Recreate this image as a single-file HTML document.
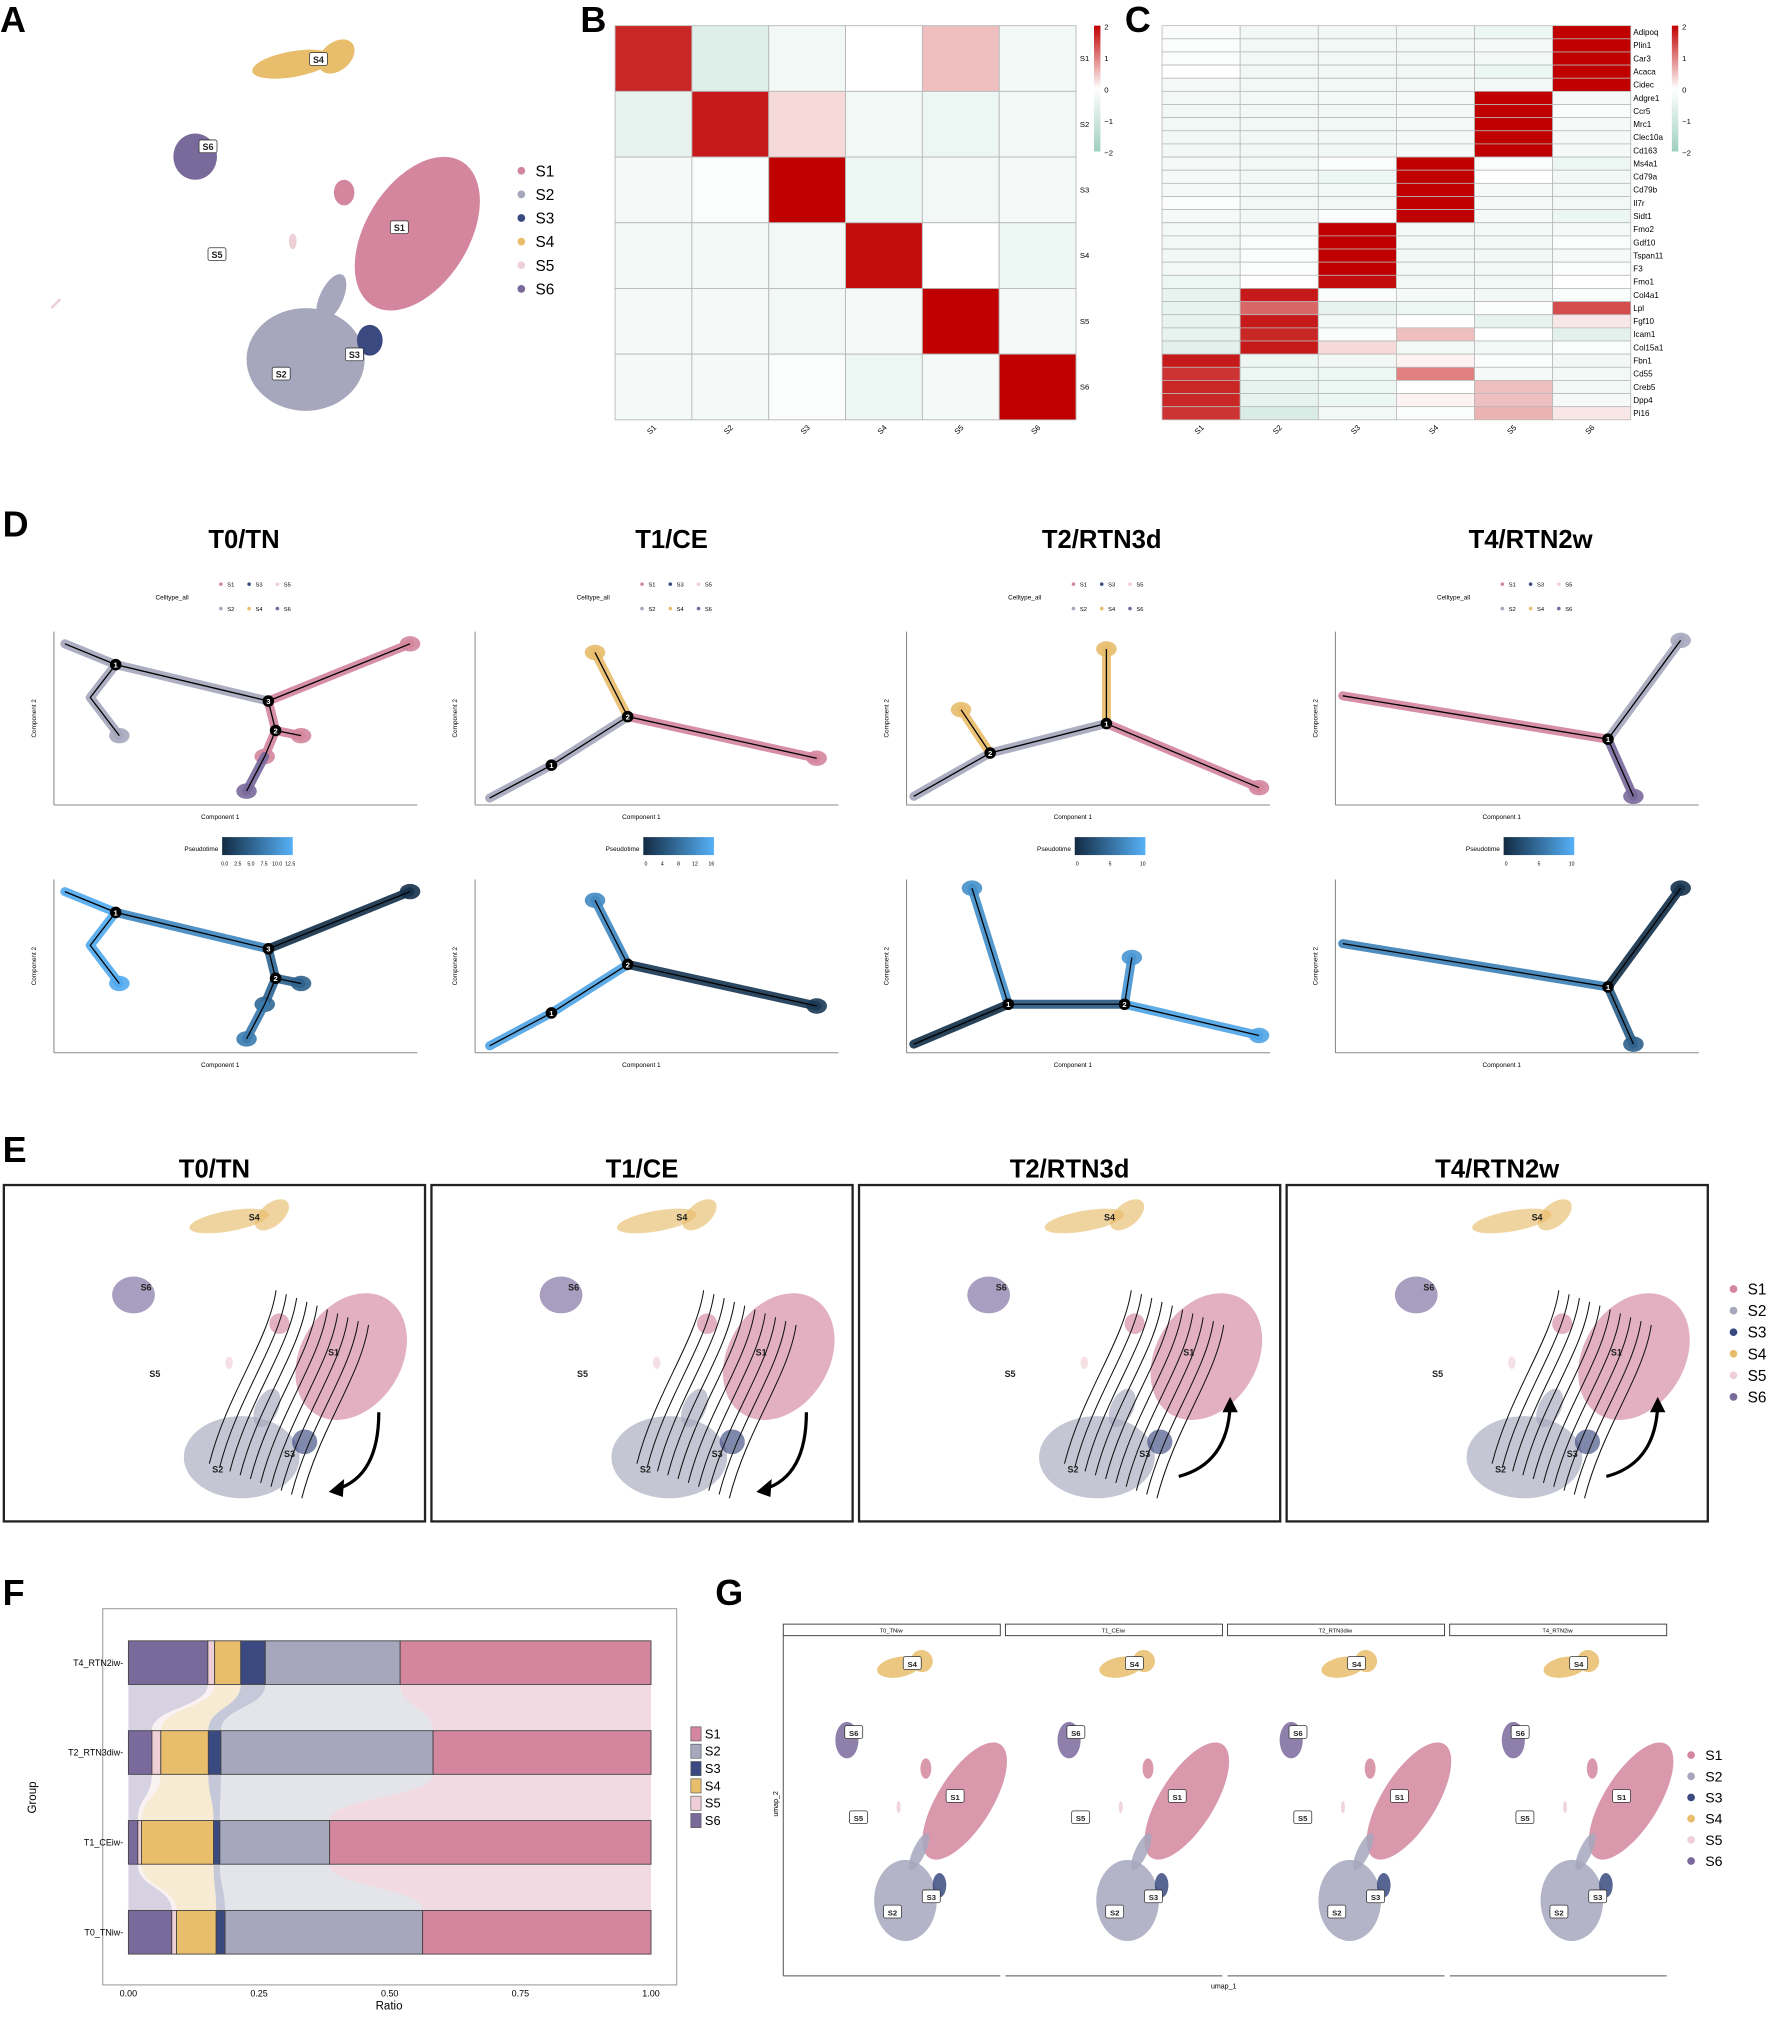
<!DOCTYPE html>
<html><head><meta charset="utf-8">
<style>
html,body{margin:0;padding:0;background:#fff;}
svg{display:block;font-family:"Liberation Sans",sans-serif;}
</style></head>
<body>
<svg id="fig" width="1772" height="2017" viewBox="0 0 1380 1571" preserveAspectRatio="none" xmlns="http://www.w3.org/2000/svg">
<rect x="0" y="0" width="1380" height="1571" fill="#fff"/>
</svg>
<script>
// ---------- data ----------
var clusterNames = ["S1","S2","S3","S4","S5","S6"];
var clusterColors = ["#d4869f","#a6a7bd","#3a4a80","#e8bd6c","#efcfd7","#7a6a9c"];
var bMatrix = [
 [1.7,-0.7,-0.3,0,0.5,-0.3],
 [-0.5,1.8,0.3,-0.3,-0.4,-0.3],
 [-0.2,-0.1,2,-0.4,-0.3,-0.2],
 [-0.3,-0.3,-0.3,1.9,0,-0.4],
 [-0.2,-0.2,-0.3,-0.2,2,-0.2],
 [-0.2,-0.2,-0.1,-0.4,-0.2,2]];
var genes = ["Adipoq","Plin1","Car3","Acaca","Cidec","Adgre1","Ccr5","Mrc1","Clec10a","Cd163","Ms4a1","Cd79a","Cd79b","Il7r","Sidt1","Fmo2","Gdf10","Tspan11","F3","Fmo1","Col4a1","Lpl","Fgf10","Icam1","Col15a1","Fbn1","Cd55","Creb5","Dpp4","Pi16"];
var cMatrix = [
 [-0.1,-0.3,-0.3,-0.3,-0.4,2],[-0.1,-0.3,-0.3,-0.3,-0.2,2],[-0.1,-0.3,-0.3,-0.3,-0.3,2],[0,-0.3,-0.3,-0.3,-0.4,2],[-0.2,-0.3,-0.3,-0.3,-0.3,2],
 [-0.3,-0.3,-0.3,-0.2,2,-0.2],[-0.3,-0.3,-0.3,-0.2,2,-0.1],[-0.3,-0.3,-0.3,-0.2,2,-0.2],[-0.3,-0.3,-0.3,-0.2,2,-0.2],[-0.3,-0.3,-0.3,-0.2,2,-0.2],
 [-0.2,-0.3,-0.1,2,-0.1,-0.4],[-0.2,-0.3,-0.4,2,0,-0.3],[-0.2,-0.3,-0.3,2,-0.2,-0.3],[-0.1,-0.3,-0.3,2,-0.2,-0.3],[-0.2,-0.3,-0.1,2,-0.2,-0.4],
 [-0.3,-0.2,2,-0.3,-0.3,-0.2],[-0.3,-0.1,2,-0.3,-0.3,-0.1],[-0.3,-0.1,2,-0.3,-0.3,-0.2],[-0.3,-0.1,2,-0.3,-0.3,-0.1],[-0.4,0,1.9,-0.3,-0.3,0],
 [-0.5,1.8,-0.1,-0.2,-0.3,-0.1],[-0.5,1.2,-0.5,-0.4,-0.1,1.4],[-0.5,1.8,-0.3,0,-0.5,0.2],[-0.5,1.7,-0.1,0.5,0,-0.6],[-0.6,1.8,0.3,-0.3,-0.3,-0.1],
 [1.8,-0.4,-0.3,0.1,-0.1,-0.3],[1.6,-0.4,-0.4,1.0,-0.2,-0.3],[1.7,-0.5,-0.4,0,0.5,-0.3],[1.7,-0.5,-0.4,0.1,0.5,-0.2],[1.6,-0.8,-0.3,-0.1,0.6,0.2]];
var fGroups = ["T4_RTN2iw","T2_RTN3diw","T1_CEiw","T0_TNiw"];
var fS6 = [0.152,0.045,0.018,0.083];
var fS5 = [0.013,0.017,0.007,0.009];
var fS4 = [0.050,0.091,0.138,0.076];
var fS3 = [0.047,0.024,0.012,0.017];
var fS2 = [0.258,0.406,0.210,0.378];
var fS1 = [0.480,0.417,0.615,0.437];
var fTicks = [0,0.25,0.5,0.75,1];
var fTickLabels = ["0.00","0.25","0.50","0.75","1.00"];
var umapBlobIdx = [3,3,5,0,0,1,1,2,4];
var umapBlobCx = [228,262,152,325,268,238,258,288,228];
var umapBlobCy = [50,44,122,182,150,280,232,265,188];
var umapBlobRx = [32,16,17,40,8,46,9,10,3];
var umapBlobRy = [10,11,18,66,10,40,20,12,6];
var umapBlobRot = [-10,-40,0,32,0,0,25,0,0];
var umapLabelX = [311,219,276,248,169,162];
var umapLabelY = [177,291,276,46,198,114];
var dSegPts = [
 [[[0.03,0.07],[0.17,0.19]],[[0.17,0.19],[0.59,0.4]],[[0.59,0.4],[0.98,0.07]],[[0.17,0.19],[0.1,0.38],[0.18,0.6]],[[0.59,0.4],[0.61,0.57],[0.58,0.72]],[[0.58,0.72],[0.53,0.92]],[[0.61,0.57],[0.68,0.6]]],
 [[[0.04,0.96],[0.21,0.77],[0.42,0.49]],[[0.42,0.49],[0.94,0.73]],[[0.42,0.49],[0.33,0.12]]],
 [[[0.02,0.95],[0.23,0.7]],[[0.23,0.7],[0.55,0.53]],[[0.55,0.53],[0.97,0.9]],[[0.55,0.53],[0.55,0.1]],[[0.23,0.7],[0.15,0.45]]],
 [[[0.02,0.37],[0.75,0.62]],[[0.75,0.62],[0.95,0.05]],[[0.75,0.62],[0.82,0.95]]]];
var dSegCluster = [[1,1,0,1,0,5,0],[1,0,3],[1,1,0,3,3],[0,1,5]];
var dSegTime = [[0.95,0.7,0.05,0.95,0.45,0.6,0.4],[0.9,0.1,0.7],[0.2,0.6,0.85,0.75,0.6],[0.65,0.05,0.4]];
var dNodes=[[[0.17,0.19,'1'],[0.59,0.4,'3'],[0.61,0.57,'2']],[[0.42,0.49,'2'],[0.21,0.77,'1']],[[0.55,0.53,'1'],[0.23,0.7,'2']],[[0.75,0.62,'1']]];
var d3BottomPts = [[[0.02,0.95],[0.28,0.72]],[[0.28,0.72],[0.18,0.05]],[[0.28,0.72],[0.6,0.72]],[[0.6,0.72],[0.97,0.9]],[[0.6,0.72],[0.62,0.45]]];
var d3BottomTime = [0.05,0.75,0.35,0.9,0.8];
var d3BottomNodes = [[0.28,0.72,'1'],[0.6,0.72,'2']];
var dPseudoLabels=[["0.0","2.5","5.0","7.5","10.0","12.5"],["0","4","8","12","16"],["0","5","10"],["0","5","10"]];
</script>
<script>
var NS="http://www.w3.org/2000/svg";
var svg=document.getElementById('fig');
function mk(tag,attrs,parent,txt){var e=document.createElementNS(NS,tag);for(var k in attrs)e.setAttribute(k,attrs[k]);if(txt!==undefined)e.textContent=txt;(parent||svg).appendChild(e);return e;}
function grp(name,parent){var g=mk('g',{},parent);return g;}
function lerp(a,b,t){return a+(b-a)*t;}
function hex(c){return [parseInt(c.substr(1,2),16),parseInt(c.substr(3,2),16),parseInt(c.substr(5,2),16)];}
function mix(c1,c2,t){var a=hex(c1),b=hex(c2);return 'rgb('+Math.round(lerp(a[0],b[0],t))+','+Math.round(lerp(a[1],b[1],t))+','+Math.round(lerp(a[2],b[2],t))+')';}
function heatColor(v){v=Math.max(-2,Math.min(2,v));return v>=0?mix('#ffffff','#c00000',v/2):mix('#ffffff','#9fd0be',-v/2);}

var letters=[["A",0,25],["B",452,25],["C",876,25],["D",2,418],["E",2,905],["F",2,1250],["G",557,1250]];
letters.forEach(function(l){var t=mk('text',{x:l[1],y:l[2],'font-size':28,'font-weight':'bold'},svg,l[0]);});

function drawUmap(g,sx,sy,ox,oy,opts){
  for(var i=0;i<umapBlobIdx.length;i++){
    var cx=umapBlobCx[i]*sx+ox, cy=umapBlobCy[i]*sy+oy;
    var e=mk('ellipse',{cx:cx,cy:cy,rx:umapBlobRx[i]*sx,ry:umapBlobRy[i]*sy,fill:clusterColors[umapBlobIdx[i]],opacity:opts.op||1,transform:'rotate('+umapBlobRot[i]+' '+cx+' '+cy+')'},g);
    
    
  }
  if(opts.labels){
    for(var j=0;j<6;j++){
      var lx=umapLabelX[j]*sx+ox, ly=umapLabelY[j]*sy+oy;
      if(opts.box){mk('rect',{x:lx-7,y:ly-5,width:14,height:10,fill:'#fff',stroke:'#333','stroke-width':0.6,rx:1.5},g);}
      var t=mk('text',{x:lx,y:ly+3,'font-size':opts.fs||7,'text-anchor':'middle','font-weight':'bold',fill:'#222'},g,clusterNames[j]);
      
      
    }
  }
}
function legend(g,x,y0,dy,fs,r){
  for(var i=0;i<6;i++){
    var c=mk('circle',{cx:x,cy:y0+i*dy,r:r,fill:clusterColors[i]},g);
    
    
    var t=mk('text',{x:x+r+8,y:y0+i*dy+fs*0.36,'font-size':fs},g,clusterNames[i]);
    
    
  }
}
var gA=grp('panel-a-umap');
drawUmap(gA,1,1,0,0,{labels:true,box:true,fs:7});
mk('line',{x1:40,y1:240,x2:47,y2:233,stroke:'#efcfd7','stroke-width':2},gA);
legend(gA,406,133,18.4,12,3);

var gB=grp('panel-b-heatmap');
var bx0=479,by0=20,bw=359,bh=307,cw=bw/6,ch=bh/6;
for(var r=0;r<6;r++)for(var c=0;c<6;c++){
  var cell=mk('rect',{x:bx0+c*cw,y:by0+r*ch,width:cw,height:ch,fill:heatColor(bMatrix[r][c]),stroke:'#b8b8b8','stroke-width':0.7},gB);
  
  
}
for(var i=0;i<6;i++){
  mk('text',{x:bx0+bw+3,y:by0+(i+0.5)*ch+2,'font-size':6},gB,clusterNames[i]);
  var cx=bx0+(i+0.5)*cw;
  mk('text',{x:cx,y:336,'font-size':6,'text-anchor':'middle',transform:'rotate(-45 '+cx+' 336)'},gB,clusterNames[i]);
}
function colorbar(g,x,y,h){
  var gd=mk('linearGradient',{id:'cb'+x,x1:0,y1:0,x2:0,y2:1},g);
  mk('stop',{offset:0,'stop-color':'#c00000'},gd);mk('stop',{offset:0.5,'stop-color':'#ffffff'},gd);mk('stop',{offset:1,'stop-color':'#9fd0be'},gd);
  var cb=mk('rect',{x:x,y:y,width:5,height:h,fill:'url(#cb'+x+')'},g);
  
  var vals=['2','1','0','−1','−2'];
  for(var k=0;k<5;k++) mk('text',{x:x+8,y:y+k*h/4+3,'font-size':6},g,vals[k]);
}
colorbar(gB,852,20,98);

var gC=grp('panel-c-heatmap');
var cx0=905,cy0=20,cwid=365,chgt=307,ccw=cwid/6,cch=chgt/genes.length;
for(var r=0;r<genes.length;r++){
  for(var c=0;c<6;c++){
    var cell=mk('rect',{x:cx0+c*ccw,y:cy0+r*cch,width:ccw,height:cch,fill:heatColor(cMatrix[r][c]),stroke:'#b8b8b8','stroke-width':0.6},gC);
    
    
  }
  var gt=mk('text',{x:cx0+cwid+2,y:cy0+(r+0.5)*cch+2.2,'font-size':6.3},gC,genes[r]);
  
}
for(var i=0;i<6;i++){var xx=cx0+(i+0.5)*ccw;mk('text',{x:xx,y:336,'font-size':6,'text-anchor':'middle',transform:'rotate(-45 '+xx+' 336)'},gC,clusterNames[i]);}
colorbar(gC,1302,20,98);

// ---------- Panel D ----------
var dTitles=["T0/TN","T1/CE","T2/RTN3d","T4/RTN2w"];
var dTitleX=[190,523,858,1192];
var dAxisX=[42,370,706,1040];
var gD=grp('panel-d-trajectories');
var axW=283,axH=135,rowsY=[492,685];
function drawSegs(ax,ay,segs,cols,nodes){
  for(var b=0;b<segs.length;b++){
    var pts=segs[b].map(function(q){return (ax+q[0]*axW)+','+(ay+q[1]*axH);}).join(' ');
    var pl2=mk('polyline',{points:pts,fill:'none',stroke:cols[b],'stroke-width':7,'stroke-linecap':'round','stroke-linejoin':'round',opacity:0.92},gD);
    
    var last=segs[b][segs[b].length-1];
    var isNode=nodes.some(function(n){return Math.abs(n[0]-last[0])<0.01&&Math.abs(n[1]-last[1])<0.01;});
    if(!isNode) mk('ellipse',{cx:ax+last[0]*axW,cy:ay+last[1]*axH,rx:8,ry:6,fill:cols[b],opacity:0.9},gD);
  }
  for(var b=0;b<segs.length;b++){
    var pts=segs[b].map(function(q){return (ax+q[0]*axW)+','+(ay+q[1]*axH);}).join(' ');
    mk('polyline',{points:pts,fill:'none',stroke:'#000','stroke-width':1},gD);
  }
  nodes.forEach(function(n){
    mk('circle',{cx:ax+n[0]*axW,cy:ay+n[1]*axH,r:4.5,fill:'#000'},gD);
    mk('text',{x:ax+n[0]*axW,y:ay+n[1]*axH+2.3,'font-size':6,fill:'#fff','text-anchor':'middle','font-weight':'bold'},gD,n[2]);
  });
}
for(var p=0;p<4;p++){
  var tt=mk('text',{x:dTitleX[p],y:427,'font-size':20,'font-weight':'bold','text-anchor':'middle'},gD,dTitles[p]);
  
  var lx=dAxisX[p]+130;
  mk('text',{x:lx-38,y:467,'font-size':5,'text-anchor':'middle'},gD,'Celltype_all');
  for(var i=0;i<6;i++){var col=i%2,k=Math.floor(i/2);
    var idx=col===0?[0,2,4][k]:[1,3,5][k];
    mk('circle',{cx:lx+k*22,cy:col?474:455,r:1.4,fill:clusterColors[idx]},gD);
    mk('text',{x:lx+k*22+5,y:(col?474:455)+2,'font-size':4.5},gD,clusterNames[idx]);}
  var pg=mk('linearGradient',{id:'pt'+p,x1:0,y1:0,x2:1,y2:0},gD);
  mk('stop',{offset:0,'stop-color':'#132b43'},pg);mk('stop',{offset:1,'stop-color':'#56b1f7'},pg);
  mk('rect',{x:dAxisX[p]+131,y:652,width:55,height:14,fill:'url(#pt'+p+')'},gD);
  mk('text',{x:dAxisX[p]+128,y:663,'font-size':5,'text-anchor':'end'},gD,'Pseudotime');
  var pl=dPseudoLabels[p];
  for(var k=0;k<pl.length;k++) mk('text',{x:dAxisX[p]+133+k*51/(pl.length-1),y:674,'font-size':4,'text-anchor':'middle'},gD,pl[k]);
  for(var row=0;row<2;row++){
    var ax=dAxisX[p],ay=rowsY[row];
    mk('line',{x1:ax,y1:ay,x2:ax,y2:ay+axH,stroke:'#888','stroke-width':0.8},gD);
    mk('line',{x1:ax,y1:ay+axH,x2:ax+axW,y2:ay+axH,stroke:'#888','stroke-width':0.8},gD);
    mk('text',{x:ax+axW/2-12,y:ay+axH+11,'font-size':5,'text-anchor':'middle'},gD,'Component 1');
    mk('text',{x:ax-14,y:ay+axH/2,'font-size':5,'text-anchor':'middle',transform:'rotate(-90 '+(ax-14)+' '+(ay+axH/2)+')'},gD,'Component 2');
    if(row===1&&p===2){
      drawSegs(ax,ay,d3BottomPts,d3BottomTime.map(function(t){return mix('#132b43','#56b1f7',t);}),d3BottomNodes);
    } else {
      var cols=row===0?dSegCluster[p].map(function(c){return clusterColors[c];}):dSegTime[p].map(function(t){return mix('#132b43','#56b1f7',t);});
      drawSegs(ax,ay,dSegPts[p],cols,dNodes[p]);
    }
  }
}

// ---------- Panel E ----------
var gE=grp('panel-e-velocity');
var eTitles=["T0/TN","T1/CE","T2/RTN3d","T4/RTN2w"];
var eArrowDown=[true,true,false,false];
for(var p=0;p<4;p++){
  var ox=p*333;
  mk('text',{x:167+ox,y:917,'font-size':20,'font-weight':'bold','text-anchor':'middle'},gE,eTitles[p]);
  var box=mk('rect',{x:3+ox,y:923,width:328,height:262,fill:'#fff',stroke:'#222','stroke-width':1.8},gE);
  
  var g=grp('velocity-umap',gE);
  drawUmap(g,0.98,0.8,-45+ox,911,{op:0.65,labels:true,box:false,fs:7});
  for(var s=0;s<10;s++){
    var x1=ox+215+s*8, y1=1005+s*3;
    mk('path',{d:'M'+x1+' '+y1+' C '+(x1-6)+' '+(y1+40)+' '+(x1-38)+' '+(y1+80)+' '+(x1-52)+' '+(y1+135),fill:'none',stroke:'#111','stroke-width':0.8},g);
  }
  var a=eArrowDown[p];
  var path=a?'M'+(ox+295)+' 1100 Q '+(ox+295)+' 1150 '+(ox+262)+' 1160':'M'+(ox+252)+' 1150 Q '+(ox+290)+' 1140 '+(ox+292)+' 1095';
  var ar=mk('path',{d:path,fill:'none',stroke:'#000','stroke-width':2.5},gE);
  
  if(a) mk('polygon',{points:(ox+256)+',1162 '+(ox+268)+',1152 '+(ox+267)+',1166'},gE);
  else mk('polygon',{points:(ox+292)+',1088 '+(ox+286)+',1100 '+(ox+298)+',1100'},gE);
}
legend(gE,1350,1004,16.8,12,3);

// ---------- Panel F ----------
var gF=grp('panel-f-proportions');
var fx0=100,fx1=507;
function fX(v){return fx0+(fx1-fx0)*v;}
var fBarTop=[1278,1348,1418,1488],fBarH=34;
mk('rect',{x:80,y:1253,width:447,height:293,fill:'#fff',stroke:'#999','stroke-width':0.8},gF);
var fSeries=[fS6,fS5,fS4,fS3,fS2,fS1];
var fSeriesCluster=[5,4,3,2,1,0];
function cum(gi){var acc=[0];for(var s=0;s<6;s++)acc.push(acc[s]+fSeries[s][gi]);return acc;}
for(var gi=0;gi<3;gi++){
  var a=cum(gi),b=cum(gi+1),yA=fBarTop[gi]+fBarH,yB=fBarTop[gi+1],ym=(yA+yB)/2;
  for(var s=0;s<6;s++){
    var d='M'+fX(a[s])+' '+yA+' C '+fX(a[s])+' '+ym+' '+fX(b[s])+' '+ym+' '+fX(b[s])+' '+yB+' L '+fX(b[s+1])+' '+yB+' C '+fX(b[s+1])+' '+ym+' '+fX(a[s+1])+' '+ym+' '+fX(a[s+1])+' '+yA+' Z';
    var rb=mk('path',{d:d,fill:clusterColors[fSeriesCluster[s]],opacity:0.3},gF);
    
  }
}
for(var gi=0;gi<4;gi++){
  var a=cum(gi);
  for(var s=0;s<6;s++){
    var bar=mk('rect',{x:fX(a[s]),y:fBarTop[gi],width:fX(a[s+1])-fX(a[s]),height:fBarH,fill:clusterColors[fSeriesCluster[s]],stroke:'#444','stroke-width':0.7},gF);
    
    
  }
  mk('text',{x:96,y:fBarTop[gi]+fBarH/2+2.5,'font-size':7,'text-anchor':'end'},gF,fGroups[gi]+'-');
}
for(var k=0;k<fTicks.length;k++){mk('text',{x:fX(fTicks[k]),y:1555,'font-size':7,'text-anchor':'middle'},gF,fTickLabels[k]);}
mk('text',{x:303,y:1565,'font-size':9,'text-anchor':'middle'},gF,'Ratio');
mk('text',{x:28,y:1400,'font-size':9,'text-anchor':'middle',transform:'rotate(-90 28 1400)'},gF,'Group');
for(var i=0;i<6;i++){
  mk('rect',{x:538,y:1345+i*13.5,width:8,height:11,fill:clusterColors[i],stroke:'#555','stroke-width':0.5},gF);
  var t=mk('text',{x:549,y:1354+i*13.5,'font-size':10},gF,clusterNames[i]);
  
  
}

// ---------- Panel G ----------
var gG=grp('panel-g-facets');
var gStrips=["T0_TNiw","T1_CEiw","T2_RTN3diw","T4_RTN2iw"];
for(var p=0;p<4;p++){
  var sx=610+p*173;
  var st=mk('rect',{x:sx,y:1265,width:169,height:9,fill:'#fff',stroke:'#333','stroke-width':0.7},gG);
  
  mk('text',{x:sx+84,y:1271.5,'font-size':4.5,'text-anchor':'middle'},gG,gStrips[p]);
  var g=grp('facet-umap',gG);
  drawUmap(g,0.53,0.79,579+p*173,1259,{op:0.85,labels:true,box:true,fs:6});
  mk('line',{x1:sx,y1:1539,x2:sx+169,y2:1539,stroke:'#555','stroke-width':0.8},gG);
}
mk('line',{x1:610,y1:1274,x2:610,y2:1539,stroke:'#555','stroke-width':0.8},gG);
mk('text',{x:953,y:1549,'font-size':5.5,'text-anchor':'middle'},gG,'umap_1');
mk('text',{x:606,y:1405,'font-size':5.5,'text-anchor':'middle',transform:'rotate(-90 606 1405)'},gG,'umap_2');
legend(gG,1317,1367,16.5,11,3);
</script>
</body></html>
